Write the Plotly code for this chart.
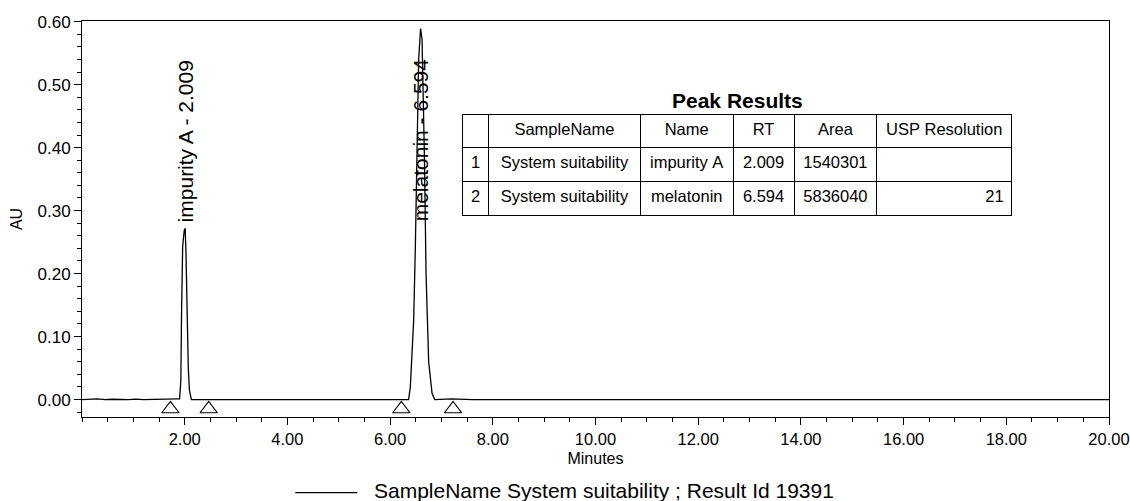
import plotly.graph_objects as go

# ---- data ----
time_min = [0.0, 0.3, 0.45, 0.6, 0.9, 1.05, 1.2, 1.5, 1.7, 1.85,
            1.90, 1.925, 1.937, 1.960, 1.990, 2.009, 2.025, 2.047, 2.070, 2.092, 2.13,
            2.6, 3.5, 4.5, 5.5, 6.2, 6.36,
            6.394, 6.459, 6.492, 6.525, 6.556, 6.594, 6.622, 6.667, 6.700, 6.751, 6.817, 6.868,
            7.2, 7.6, 8.0, 10.0, 12.0, 14.2, 14.35, 14.5, 16.0, 17.8, 17.85, 19.3, 19.4, 19.55, 20.0]
absorb_au = [0.0, 0.001, 0.0, 0.0005, 0.0, 0.0008, 0.0, 0.001, 0.001, 0.001,
             0.001, 0.03, 0.126, 0.243, 0.268, 0.272, 0.233, 0.131, 0.05, 0.015, 0.0,
             0.0, 0.0, 0.0, 0.0, 0.0, 0.0,
             0.02, 0.126, 0.243, 0.392, 0.54, 0.589, 0.572, 0.392, 0.2, 0.06, 0.01, 0.0,
             0.001, 0.0, 0.0, 0.0, 0.0, 0.0, 0.001, 0.0, 0.0, 0.0, 0.001, 0.0, 0.001, 0.0, 0.0]

peak_names = ["impurity A", "melatonin"]
peak_rt = [2.009, 6.594]
peak_height = [0.272, 0.589]
peak_area = [1540301, 5836040]
usp_resolution = ["", "21"]
sample_names = ["System suitability", "System suitability"]
peak_numbers = ["1", "2"]
table_headers = ["", "SampleName", "Name", "RT", "Area", "USP Resolution"]

# integration start/end markers
marker_times = [1.722, 2.467, 6.219, 7.226]
marker_level = -0.015

x_ticks = [2, 4, 6, 8, 10, 12, 14, 16, 18, 20]

FONT = "Liberation Sans, Arial, sans-serif"


def nb(s):
    # keep multi-word cell texts on one line
    return s.replace(" ", "\u00a0")


fig = go.Figure()

fig.add_trace(go.Scatter(
    x=time_min, y=absorb_au, mode="lines",
    line=dict(color="black", width=1.3), showlegend=False,
    xaxis="x", yaxis="y"))

fig.add_trace(go.Scatter(
    x=marker_times, y=[marker_level] * len(marker_times), mode="markers",
    marker=dict(symbol="triangle-up-open", size=15, color="black", line=dict(width=1.2, color="black")),
    showlegend=False, xaxis="x", yaxis="y"))

# Peak Results table
fig.add_trace(go.Table(
    domain=dict(x=[0.3706, 0.9055], y=[0.49, 0.763]),
    columnwidth=[26, 152, 93, 61, 83, 135],
    header=dict(values=[nb(h) for h in table_headers], align="center", height=33,
                line=dict(color="black", width=1), fill=dict(color="white"),
                font=dict(family=FONT, size=16.5, color="black")),
    cells=dict(values=[peak_numbers, [nb(s) for s in sample_names], [nb(n) for n in peak_names],
                       [f"{v:.3f}" for v in peak_rt], [str(a) for a in peak_area], usp_resolution],
               align=["center", "center", "center", "center", "center", "right"],
               height=34, line=dict(color="black", width=1), fill=dict(color="white"),
               font=dict(family=FONT, size=16.5, color="black"))))

annotations = [
    dict(text="<b>Peak Results</b>", xref="paper", yref="paper", x=0.6381, y=0.798,
         xanchor="center", yanchor="middle", showarrow=False,
         font=dict(family=FONT, size=21, color="black")),
    dict(text=f"{peak_names[0]} - {peak_rt[0]:.3f}", x=peak_rt[0], y=peak_height[0],
         xref="x", yref="y", textangle=-90, xanchor="center", yanchor="bottom",
         yshift=5, showarrow=False, borderpad=0,
         font=dict(family=FONT, size=21, color="black")),
    dict(text=f"{peak_names[1]} - {peak_rt[1]:.3f}", x=peak_rt[1], y=0.5435,
         xref="x", yref="y", textangle=-90, xanchor="center", yanchor="top",
         showarrow=False, borderpad=0,
         font=dict(family=FONT, size=21, color="black")),
    dict(text="SampleName System suitability ; Result Id 19391", xref="paper", yref="paper",
         x=(372 - 81.7) / 1027, y=(416.7 - 490.5) / 395.4, xanchor="left", yanchor="middle",
         showarrow=False, font=dict(family=FONT, size=21, color="black")),
]

fig.add_shape(type="line", xref="paper", yref="paper",
              x0=(295 - 81.7) / 1027, x1=(357 - 81.7) / 1027,
              y0=(416.7 - 492.3) / 395.4, y1=(416.7 - 492.3) / 395.4,
              line=dict(color="black", width=1.2))

fig.update_layout(
    width=1130, height=501,
    margin=dict(l=82, r=21, t=21, b=84, autoexpand=False),
    paper_bgcolor="white", plot_bgcolor="white",
    font=dict(family=FONT, size=16, color="black"),
    annotations=annotations,
    xaxis=dict(range=[0, 20], tickmode="array", tickvals=x_ticks,
               ticktext=[f"{v:.2f}" for v in x_ticks], automargin=False,
               ticks="outside", ticklen=7, tickwidth=1, tickcolor="black",
               minor=dict(dtick=0.5, tick0=0, ticks="outside", ticklen=4, tickcolor="black"),
               showline=True, linecolor="black", linewidth=1, mirror=True,
               showgrid=False, zeroline=False,
               tickfont=dict(family=FONT, size=16.5, color="black"),
               title=dict(text="Minutes", standoff=6, font=dict(family=FONT, size=16, color="black"))),
    yaxis=dict(range=[-0.0277, 0.601], tick0=0, dtick=0.1, tickformat=".2f", automargin=False,
               ticks="outside", ticklen=7, tickwidth=1, tickcolor="black",
               minor=dict(dtick=0.02, tick0=0, ticks="outside", ticklen=4, tickcolor="black"),
               showline=True, linecolor="black", linewidth=1, mirror=True,
               showgrid=False, zeroline=False,
               tickfont=dict(family=FONT, size=17, color="black"),
               title=dict(text="AU", standoff=10, font=dict(family=FONT, size=16, color="black"))),
)

fig.write_html("out.html")
